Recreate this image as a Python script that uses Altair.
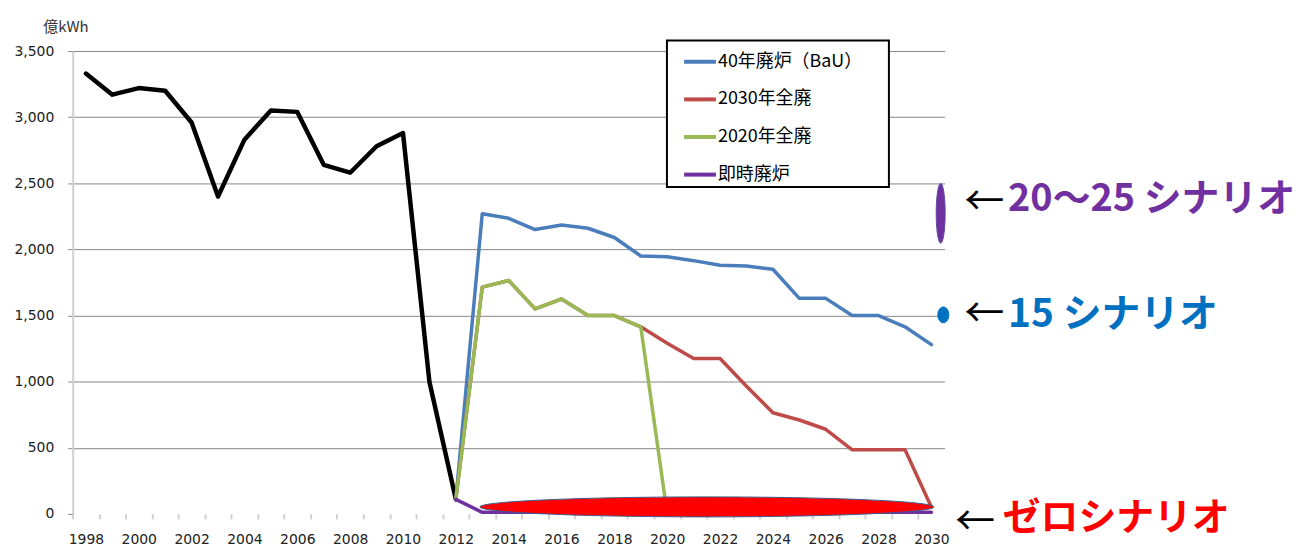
import altair as alt
import pandas as pd

# ---------------- data ----------------
years_actual = [1998, 1999, 2000, 2001, 2002, 2003, 2004, 2005, 2006, 2007, 2008, 2009, 2010, 2011, 2012]
actual = [3330, 3170, 3220, 3200, 2960, 2400, 2830, 3050, 3040, 2640, 2580, 2780, 2880, 1000, 110]

years_scen = [2012, 2013, 2014, 2015, 2016, 2017, 2018, 2019, 2020, 2021,
              2022, 2023, 2024, 2025, 2026, 2027, 2028, 2029, 2030]
bau = [110, 2270, 2235, 2150, 2185, 2160, 2090, 1950, 1945, 1915,
       1880, 1875, 1850, 1630, 1630, 1500, 1500, 1415, 1280]
end2030 = [110, 1715, 1765, 1550, 1625, 1500, 1500, 1415, 1290, 1175,
           1175, 965, 765, 710, 640, 485, 485, 485, 50]
end2020 = [110, 1715, 1765, 1550, 1625, 1500, 1500, 1415, 0]
immediate = [110, 12, 12, 12, 12, 12, 12, 12, 12, 12,
             12, 12, 12, 12, 12, 12, 12, 12, 12]

series_names = ["40年廃炉（BaU）", "2030年全廃", "2020年全廃", "即時廃炉"]
series_colors = ["#4A7EBB", "#BE4B48", "#98B954", "#7030A0"]
series_values = [bau, end2030, end2020, immediate]

tick_years = [1998, 1999, 2000, 2001, 2002, 2003, 2004, 2005, 2006, 2007, 2008,
              2009, 2010, 2011, 2012, 2013, 2014, 2015, 2016, 2017, 2018, 2019,
              2020, 2021, 2022, 2023, 2024, 2025, 2026, 2027, 2028, 2029, 2030]
y_ticks = [0, 500, 1000, 1500, 2000, 2500, 3000, 3500]

# scenario markers (ellipses) in data coordinates
marker_year = [2021.5, 2030.35, 2030.45]
marker_value = [53, 2273, 1505]

# annotation texts
ann_labels = ["20～25 シナリオ", "15 シナリオ", "ゼロシナリオ"]
ann_colors = ["#7030A0", "#0070C0", "#FF0000"]
ann_sizes = [38, 39, 38]
ann_year = [2032.9, 2032.9, 2032.7]
ann_value = [2371, 1505, -38]
arrow_year = [2032.0, 2032.0, 2031.65]
arrow_value = [2348, 1505, -72]

# ---------------- layout ----------------
W, H = 876, 465
half_step = W / 33 / 2

df_actual = pd.DataFrame({"year": years_actual, "value": actual})
rows = []
for name, vals in zip(series_names, series_values):
    for yr, v in zip(years_scen, vals):
        rows.append({"year": yr, "value": v, "series": name})
df_scen = pd.DataFrame(rows)

x_enc = alt.X(
    "year:Q",
    scale=alt.Scale(domain=[1997.5, 2030.5], nice=False, zero=False),
    axis=alt.Axis(
        values=tick_years, format="d",
        labelExpr="datum.value % 2 === 0 ? datum.label : ''",
        tickOffset=-half_step, labelOffset=half_step,
        domain=False, grid=False,
        tickColor="#D0D0D0", tickWidth=2, tickSize=5,
        labelPadding=14, labelFont="DejaVu Sans", labelFontSize=14,
        labelColor="#222222", labelFlush=False, labelOverlap=False,
        title=None,
    ),
)
y_enc = alt.Y(
    "value:Q",
    scale=alt.Scale(domain=[0, 3500], nice=False),
    axis=alt.Axis(
        values=y_ticks, format=",d",
        grid=True, gridColor="#868686", gridWidth=1,
        gridOpacity={"condition": {"test": "datum.value === 0", "value": 0}, "value": 1},
        tickColor="#868686", tickSize=5, labelPadding=14,
        domainColor="#D0D0D0", domainWidth=2,
        labelFont="DejaVu Sans", labelFontSize=14, labelColor="#222222",
        title="億kWh", titleAngle=0, titleAlign="left", titleBaseline="middle",
        titleX=-30, titleY=-25, titleFont="Noto Sans CJK JP",
        titleFontSize=15, titleFontWeight="normal", titleColor="#333333",
    ),
)

layers = []

black = alt.Chart(df_actual).mark_line(
    color="black", strokeWidth=4.5, strokeJoin="round", strokeCap="round"
).encode(x=x_enc, y=y_enc)
layers.append(black)

color_enc = alt.Color(
    "series:N",
    scale=alt.Scale(domain=series_names, range=series_colors),
    legend=alt.Legend(
        orient="none", legendX=597, legendY=-10.5,
        title=" ", titleOrient="right", titlePadding=23,
        symbolType="stroke", symbolSize=1024, symbolStrokeWidth=4,
        symbolOffset=12, labelOffset=0, padding=3.25, rowPadding=10.8,
        labelFont="Noto Sans CJK JP", labelFontSize=18, labelColor="#000000",
        labelLimit=400, fillColor="#FFFFFF", strokeColor="#000000",
    ),
)
for name in series_names:
    layers.append(
        alt.Chart(df_scen).transform_filter(alt.datum.series == name)
        .mark_line(strokeWidth=3.5, strokeJoin="round", strokeCap="round")
        .encode(x=x_enc, y=y_enc, color=color_enc)
    )

shapes = [
    ("M -1 0 A 1 0.044 0 1 0 1 0 A 1 0.044 0 1 0 -1 0 Z", 456 ** 2, "#FF0000", "#3A5A8C"),
    ("M 0 -1 A 0.15 1 0 1 0 0 1 A 0.15 1 0 1 0 0 -1 Z", 60 ** 2, "#7030A0", "#5B4A9C"),
    ("M 0 -1 A 0.69 1 0 1 0 0 1 A 0.69 1 0 1 0 0 -1 Z", 16 ** 2, "#0070C0", "#0070C0"),
]
for i, (path, size, fill, stroke) in enumerate(shapes):
    dfm = pd.DataFrame({"year": [marker_year[i]], "value": [marker_value[i]]})
    layers.append(
        alt.Chart(dfm).mark_point(
            shape=path, size=size, filled=True, fill=fill, stroke=stroke,
            strokeWidth=1, opacity=1,
        ).encode(x=x_enc, y=y_enc)
    )

for i in range(len(ann_labels)):
    dfa = pd.DataFrame({"year": [arrow_year[i]], "value": [arrow_value[i]], "t": ["←"]})
    layers.append(
        alt.Chart(dfa).mark_text(
            font="Noto Sans CJK JP", fontSize=40, fontWeight="normal",
            color="#000000", align="center", baseline="middle",
        ).encode(x=x_enc, y=y_enc, text="t:N")
    )
    dft = pd.DataFrame({"year": [ann_year[i]], "value": [ann_value[i]], "t": [ann_labels[i]]})
    layers.append(
        alt.Chart(dft).mark_text(
            font="Noto Sans CJK JP", fontSize=ann_sizes[i], fontWeight="bold",
            color=ann_colors[i], align="left", baseline="middle",
        ).encode(x=x_enc, y=y_enc, text="t:N")
    )

chart = alt.layer(*layers).properties(
    width=W, height=H,
    autosize=alt.AutoSizeParams(type="none"),
    padding={"left": 65, "top": 42, "right": 356, "bottom": 31},
    background="#FFFFFF",
).configure_view(stroke=None).configure_legend(strokeWidth=2)

chart.save("out.html", embed_options={"renderer": "svg", "actions": False})
